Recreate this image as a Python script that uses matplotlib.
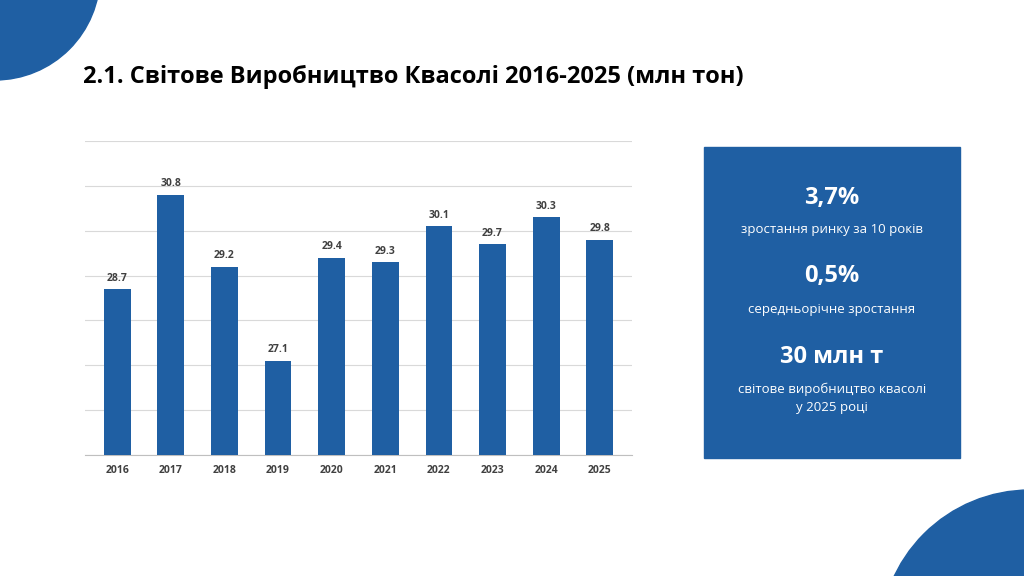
import matplotlib.pyplot as plt
from matplotlib.patches import Circle, Rectangle

years = ['2016', '2017', '2018', '2019', '2020', '2021', '2022', '2023', '2024', '2025']
values = [28.7, 30.8, 29.2, 27.1, 29.4, 29.3, 30.1, 29.7, 30.3, 29.8]
stats = [('3,7%', 'зростання ринку за 10 років'),
         ('0,5%', 'середньорічне зростання'),
         ('30 млн т', 'світове виробництво квасолі\nу 2025 році')]

blue = '#1f5fa3'
plt.rcParams['font.family'] = ['Open Sans', 'DejaVu Sans']

fig = plt.figure(figsize=(10.24, 5.76), dpi=100)

# decorative corners
bg = fig.add_axes([0, 0, 1, 1])
bg.set_xlim(0, 1024)
bg.set_ylim(576, 0)
bg.axis('off')
bg.add_patch(Circle((-5, -25), 105, color=blue))
bg.add_patch(Circle((1030, 640), 150, color=blue))

fig.text(83 / 1024, 1 - 77 / 576, '2.1. Світове Виробництво Квасолі 2016-2025 (млн тон)',
         fontsize=17, fontweight='bold', va='center', ha='left')

ax = fig.add_axes([85 / 1024, 1 - 455 / 576, 547 / 1024, 314 / 576])
x = range(len(years))
bars = ax.bar(x, [v - 25 for v in values], bottom=25, width=0.5, color=blue, zorder=3)
for xi, v in zip(x, values):
    ax.text(xi, v + 0.12, f'{v:.1f}', ha='center', va='bottom', fontsize=7.5,
            fontweight='bold', color='#404040')
ax.set_ylim(25, 32)
ax.set_xlim(-0.6, 9.6)
ax.set_yticks(range(25, 33))
ax.set_yticklabels([])
ax.tick_params(left=False, bottom=False)
ax.set_xticks(list(x))
ax.set_xticklabels(years, fontsize=7.5, fontweight='bold', color='#404040')
ax.grid(axis='y', color='#d9d9d9', lw=0.8, zorder=0)
for s in ['top', 'right', 'left']:
    ax.spines[s].set_visible(False)
ax.spines['bottom'].set_color('#bfbfbf')

# info box
bg.add_patch(Rectangle((704, 147), 256, 311, color=blue))
ys = [(198, 229), (276, 309), (357, 398)]
for (big, small), (yb, ysm) in zip(stats, ys):
    bg.text(832, yb, big, ha='center', va='center', color='white', fontsize=17, fontweight='bold')
    bg.text(832, ysm, small, ha='center', va='center', color='white', fontsize=9.5, linespacing=1.5)

fig.savefig('out.png', dpi=100)
